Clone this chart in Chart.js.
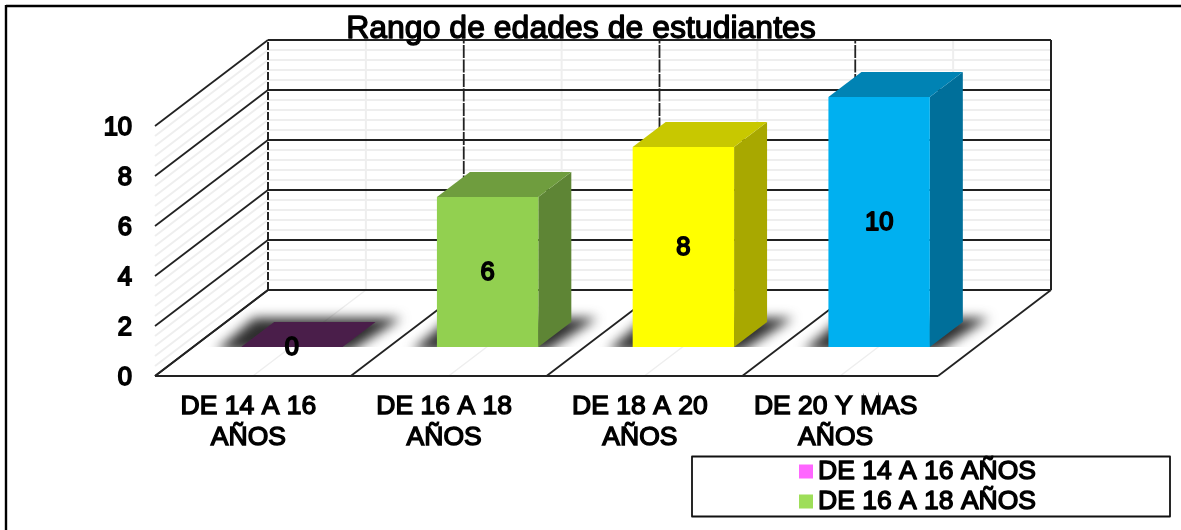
<!DOCTYPE html>
<html><head><meta charset="utf-8">
<style>html,body{margin:0;padding:0;background:#fff}canvas{display:block}</style>
<script src="https://cdn.jsdelivr.net/npm/chart.js@4"></script>
</head><body>
<div style="width:1181px;height:530px"><canvas id="c" width="1181" height="530"></canvas></div>
<script>
const titleText = "Rango de edades de estudiantes";
const categories = [["DE 14 A 16","AÑOS"],["DE 16 A 18","AÑOS"],["DE 18 A 20","AÑOS"],["DE 20 Y MAS","AÑOS"]];
const values = [0, 6, 8, 10];
const frontColors = ["#FF66FF","#92D050","#FFFF00","#00B0F0"];
const topColors = ["#4A1E4A","#6F9D3E","#C8C800","#0083B4"];
const sideColors = ["#3A173A","#5E8535","#A8A800","#006F9A"];
const legendLabels = ["DE 14 A 16 AÑOS","DE 16 A 18 AÑOS"];
const legendColors = ["#FF66FF","#9EDE59"];
const FONT = '"Liberation Sans", Arial, sans-serif';

const wall = {dx:113, dy:-86};      // depth of the floor
const plane = {dx:39, dy:-29};      // bar front plane from the chart front
const depth = {dx:33, dy:-25};      // depth of a bar

function seg(ctx,x1,y1,x2,y2,color,w,dash){
  ctx.beginPath();ctx.setLineDash(dash||[]);ctx.strokeStyle=color;ctx.lineWidth=w;
  ctx.moveTo(x1,y1);ctx.lineTo(x2,y2);ctx.stroke();ctx.setLineDash([]);
}
function poly(ctx,pts,color){
  ctx.beginPath();pts.forEach((p,i)=>i?ctx.lineTo(p[0],p[1]):ctx.moveTo(p[0],p[1]));ctx.closePath();
  ctx.fillStyle=color;ctx.fill();
}
function strokedText(ctx,t,x,y,font,w,align){
  ctx.font=font;ctx.textAlign=align||'center';ctx.textBaseline='middle';
  ctx.fillStyle='#000';ctx.strokeStyle='#000';ctx.lineWidth=w;ctx.lineJoin='round';
  ctx.fillText(t,x,y);ctx.strokeText(t,x,y);
}

const scene = {
  id:'scene',
  beforeDatasetsDraw(chart){
    const {ctx,scales:{x,y}}=chart, a=chart.chartArea;
    const bw=wall.dx, bh=wall.dy;
    const L=a.left,R=a.right,B=a.bottom,T=a.top;
    const catW=(R-L)/categories.length;
    const step=y.getPixelForValue(0)-y.getPixelForValue(2);
    ctx.save();
    // frame
    seg(ctx,6,6,1181,6,'#000',2.4);
    seg(ctx,6,5,6,530,'#000',2.4);
    // minor grid
    const minor='#EEEEEE';
    y.ticks.forEach((t,i)=>{
      if(i===y.ticks.length-1) return;
      for(let k=1;k<5;k++){
        const py=y.getPixelForValue(t.value)-step*k/5;
        seg(ctx,L,py,L+bw,py+bh,minor,2);
        seg(ctx,L+bw,py+bh,R+bw,py+bh,minor,2);
      }
    });
    categories.forEach((c,i)=>{
      const mx=L+catW*(i+.5);
      seg(ctx,mx,B,mx+bw,B+bh,minor,1.5);
      seg(ctx,mx+bw,B+bh,mx+bw,T+bh,minor,2);
    });
    // major grid
    const major='#222222';
    y.ticks.forEach(t=>{
      const py=y.getPixelForValue(t.value);
      seg(ctx,L,py,L+bw,py+bh,major,1.8);
      seg(ctx,L+bw,py+bh,R+bw,py+bh,major,1.8);
    });
    for(let i=0;i<=categories.length;i++){
      const px=L+catW*i;
      seg(ctx,px,B,px+bw,B+bh,major,1.8);
      if(i===0) seg(ctx,px+bw,B+bh,px+bw,T+bh,major,2,[8,2]);
      else if(i<categories.length) seg(ctx,px+bw,B+bh,px+bw,T+bh,major,1.8,[13,1.5]);
      else seg(ctx,px+bw,B+bh,px+bw,T+bh,major,2);
    }
    seg(ctx,L,B,R,B,major,2);
    ctx.restore();
    // bar faces and floor shadows, in the plane of the bars; the library then draws the fronts there
    ctx.save();
    ctx.translate(plane.dx,plane.dy);
    chart.getDatasetMeta(0).data.forEach((el,i)=>{
      const l=el.x-el.width/2,r=el.x+el.width/2,top=el.y,base=el.base;
      ctx.save();
      ctx.beginPath();ctx.rect(l-60,base-60,el.width+200,60);ctx.clip();
      ctx.filter='blur(6px)';
      poly(ctx,[[l-25,base+4],[r+8,base+4],[r+depth.dx+26,base+depth.dy-4],[l+depth.dx-20,base+depth.dy-4]],'#2E2E2E');
      ctx.restore();
      poly(ctx,[[r,base],[r+depth.dx,base+depth.dy],[r+depth.dx,top+depth.dy],[r,top]],sideColors[i]);
      poly(ctx,[[l,top],[r,top],[r+depth.dx,top+depth.dy],[l+depth.dx,top+depth.dy]],topColors[i]);
    });
  },
  afterDatasetsDraw(chart){
    const {ctx}=chart;
    ctx.restore();
    chart.getDatasetMeta(0).data.forEach((el,i)=>{
      const cy=(el.y+el.base)/2;
      strokedText(ctx,String(values[i]),el.x+plane.dx,cy+plane.dy+1,'25.5px '+FONT,1.8);
    });
  },
  afterDraw(chart){
    const {ctx}=chart;
    ctx.save();
    strokedText(ctx,titleText,581,29,'32px '+FONT,1.3);
    // legend
    ctx.fillStyle='#fff';ctx.fillRect(692,456.5,478,60);
    ctx.strokeStyle='#111';ctx.lineWidth=1.8;ctx.strokeRect(692,456.5,478,60);
    legendLabels.forEach((t,i)=>{
      const yy=471.5+30*i;
      ctx.fillStyle=legendColors[i];ctx.fillRect(799,yy-7,14,14);
      strokedText(ctx,t,818,yy,'26.5px '+FONT,1.4,'left');
    });
    ctx.restore();
  }
};

new Chart(document.getElementById('c'),{
  type:'bar',
  data:{labels:categories,datasets:[{
    data:values,backgroundColor:frontColors,borderWidth:0,
    barPercentage:0.518,categoryPercentage:1,clip:false
  }]},
  plugins:[scene],
  options:{
    responsive:false,animation:false,devicePixelRatio:1,
    layout:{padding:{left:100,right:243,top:126,bottom:4}},
    plugins:{legend:{display:false},title:{display:false},tooltip:{enabled:false}},
    scales:{
      x:{
        grid:{display:false,drawTicks:false},border:{display:false},
        afterFit(s){s.height=150;},
        ticks:{maxRotation:0,autoSkip:false,padding:15,labelOffset:-4.5,color:'#000',
          font:{family:FONT,size:26.5,lineHeight:1.17},textStrokeColor:'#000',textStrokeWidth:1.4}
      },
      y:{
        min:0,max:10,
        grid:{display:false,drawTicks:false},border:{display:false},
        afterFit(s){s.width=55;},
        ticks:{stepSize:2,padding:23,labelOffset:1.5,color:'#000',
          font:{family:FONT,size:25.5},textStrokeColor:'#000',textStrokeWidth:1.8}
      }
    }
  }
});
</script>
</body></html>
